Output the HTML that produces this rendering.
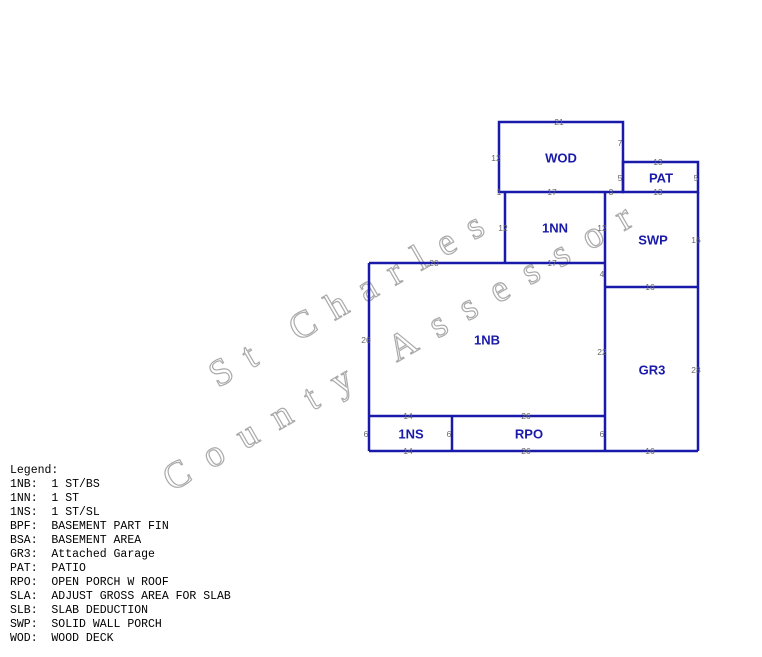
<!DOCTYPE html>
<html><head><style>
body{margin:0;background:#fff;width:762px;height:657px;overflow:hidden;position:relative}
svg{position:absolute;left:0;top:0}
.l{font-family:"Liberation Sans",sans-serif;font-size:8.5px;fill:#666;text-anchor:middle;dominant-baseline:central}
.n{font-family:"Liberation Sans",sans-serif;font-size:13px;font-weight:bold;fill:#1a1aaa;text-anchor:middle;dominant-baseline:central}
.w{font-family:"Liberation Serif",serif;font-size:38px;fill:#fff;stroke:#aaa;stroke-width:1.2;letter-spacing:20px}
pre{position:absolute;left:10px;top:464px;margin:0;font-family:"Liberation Mono",monospace;font-size:11.5px;line-height:14px;color:#000}
</style></head><body>
<svg width="762" height="657">
<text class="w" transform="translate(218,388) rotate(-30)" style="letter-spacing:17px">St Charles</text>
<text class="w" transform="translate(172,492) rotate(-30)">County Assessor</text>
<g stroke="#1a1aaa" stroke-width="2.5" fill="none">
<rect x="499" y="122" width="124" height="70"/>
<rect x="623" y="162" width="75" height="30"/>
<polyline points="505,192 505,263"/>
<line x1="605" y1="192" x2="605" y2="451"/>
<line x1="698" y1="192" x2="698" y2="451"/>
<line x1="369" y1="263" x2="605" y2="263"/>
<line x1="605" y1="287" x2="698" y2="287"/>
<line x1="369" y1="263" x2="369" y2="451"/>
<line x1="369" y1="416" x2="605" y2="416"/>
<line x1="369" y1="451" x2="698" y2="451"/>
<line x1="452" y1="416" x2="452" y2="451"/>
</g>
<g class="l">
<text x="559" y="122" class="l">21</text><text x="496" y="158" class="l">12</text><text x="620" y="143" class="l">7</text>
<text x="499" y="192" class="l">1</text><text x="552" y="192" class="l">17</text><text x="611" y="192" class="l">3</text>
<text x="620" y="178" class="l">5</text><text x="658" y="162" class="l">13</text><text x="658" y="192" class="l">13</text><text x="696" y="178" class="l">5</text>
<text x="503" y="228" class="l">12</text><text x="602" y="228" class="l">12</text><text x="696" y="240" class="l">16</text>
<text x="434" y="263" class="l">20</text><text x="552" y="263" class="l">17</text><text x="602" y="274" class="l">4</text>
<text x="650" y="287" class="l">16</text><text x="366" y="340" class="l">26</text><text x="602" y="352" class="l">22</text><text x="696" y="370" class="l">28</text>
<text x="408" y="416" class="l">14</text><text x="526" y="416" class="l">26</text>
<text x="366" y="434" class="l">6</text><text x="449" y="434" class="l">6</text><text x="602" y="434" class="l">6</text>
<text x="408" y="451" class="l">14</text><text x="526" y="451" class="l">26</text><text x="650" y="451" class="l">16</text>
</g>
<text x="561" y="158" class="n">WOD</text><text x="661" y="178" class="n">PAT</text>
<text x="555" y="228" class="n">1NN</text><text x="653" y="240" class="n">SWP</text>
<text x="487" y="340" class="n">1NB</text><text x="652" y="370" class="n">GR3</text>
<text x="411" y="434" class="n">1NS</text><text x="529" y="434" class="n">RPO</text>
</svg>
<pre>Legend:
1NB:  1 ST/BS
1NN:  1 ST
1NS:  1 ST/SL
BPF:  BASEMENT PART FIN
BSA:  BASEMENT AREA
GR3:  Attached Garage
PAT:  PATIO
RPO:  OPEN PORCH W ROOF
SLA:  ADJUST GROSS AREA FOR SLAB
SLB:  SLAB DEDUCTION
SWP:  SOLID WALL PORCH
WOD:  WOOD DECK</pre>
</body></html>
